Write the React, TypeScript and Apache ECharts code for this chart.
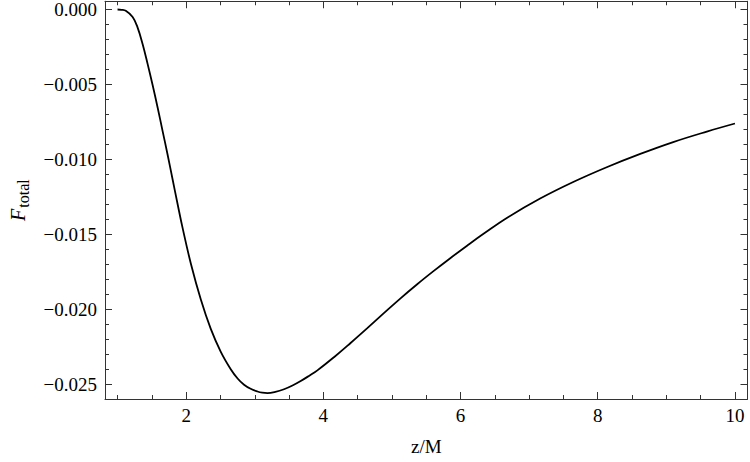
import React, { useEffect, useRef } from "react";
import * as echarts from "echarts";

// z/M values (x) and F_total values (y)
const zValues = [
  1.0, 1.06, 1.12, 1.22, 1.29, 1.365, 1.438, 1.511, 1.584, 1.656, 1.729,
  1.802, 1.875, 1.948, 2.068, 2.214, 2.359, 2.505, 2.65, 2.75, 2.844, 2.94,
  3.039, 3.11, 3.185, 3.3, 3.427, 3.55, 3.67, 3.79, 3.913, 4.155, 4.397,
  4.641, 4.882, 5.125, 5.368, 5.61, 5.85, 6.1, 6.34, 6.68, 7.16, 7.65, 8.13,
  8.62, 9.1, 9.59, 10.0,
];
const fValues = [
  0, -0.00002, -0.00009, -0.0005, -0.00118, -0.0023, -0.00363, -0.00504,
  -0.00654, -0.0081, -0.00968, -0.01133, -0.01298, -0.01458, -0.01695,
  -0.01936, -0.02132, -0.02285, -0.02401, -0.02463, -0.02505, -0.02532,
  -0.0255, -0.02558, -0.02561, -0.02553, -0.02535, -0.0251, -0.0248,
  -0.02446, -0.02409, -0.02321, -0.02226, -0.02127, -0.02027, -0.01928,
  -0.01834, -0.01745, -0.0166, -0.01575, -0.01496, -0.0139, -0.01262,
  -0.0115, -0.01053, -0.00964, -0.00885, -0.00815, -0.00761,
];

const xMajorTicks = [2, 4, 6, 8, 10];
const xMinorTicks = [1, 1.5, 2.5, 3, 3.5, 4.5, 5, 5.5, 6.5, 7, 7.5, 8.5, 9, 9.5];
const yMajorTicks = [0, -0.005, -0.01, -0.015, -0.02, -0.025];
const yMinorTicks = [
  -0.001, -0.002, -0.003, -0.004, -0.006, -0.007, -0.008, -0.009, -0.011,
  -0.012, -0.013, -0.014, -0.016, -0.017, -0.018, -0.019, -0.021, -0.022,
  -0.023, -0.024,
];

const FONT = "Liberation Serif";
const LINE_COLOR = "#333";
const X_MIN = 0.817;
const X_MAX = 10.183;
const Y_MIN = -0.026;
const Y_MAX = 0.00055;

function fmtY(v: number): string {
  const s = Math.abs(v).toFixed(3);
  return v < -1e-9 ? "\u2212" + s : s;
}

export default function App() {
  const ref = useRef<HTMLDivElement>(null);

  useEffect(() => {
    if (!ref.current) return;
    const chart = echarts.init(ref.current, null, { renderer: "svg" });

    const xBase = (position: string, ticks: number[], len: number, labels: boolean, line: boolean) => ({
      type: "value",
      position,
      min: X_MIN,
      max: X_MAX,
      axisLine: { show: line, onZero: false, lineStyle: { color: LINE_COLOR, width: 1 } },
      axisTick: {
        show: true,
        inside: true,
        length: len,
        customValues: ticks,
        lineStyle: { color: LINE_COLOR, width: 1 },
      },
      axisLabel: labels
        ? {
            show: true,
            customValues: ticks,
            margin: 7,
            color: "#000",
            fontFamily: FONT,
            fontSize: 19,
            formatter: (v: number) => String(v),
          }
        : { show: false },
      splitLine: { show: false },
    });

    const yBase = (position: string, ticks: number[], len: number, labels: boolean, line: boolean) => ({
      type: "value",
      position,
      min: Y_MIN,
      max: Y_MAX,
      axisLine: { show: line, onZero: false, lineStyle: { color: LINE_COLOR, width: 1 } },
      axisTick: {
        show: true,
        inside: true,
        length: len,
        customValues: ticks,
        lineStyle: { color: LINE_COLOR, width: 1 },
      },
      axisLabel: labels
        ? {
            show: true,
            customValues: ticks,
            margin: 8,
            color: "#000",
            fontFamily: FONT,
            fontSize: 19,
            formatter: (v: number) => fmtY(v),
          }
        : { show: false },
      splitLine: { show: false },
    });

    const xMain: any = xBase("bottom", xMajorTicks, 7, true, true);
    xMain.name = "z/M";
    xMain.nameLocation = "middle";
    xMain.nameGap = 38;
    xMain.nameTextStyle = { color: "#000", fontFamily: FONT, fontSize: 19 };

    const yMain: any = yBase("left", yMajorTicks, 7, true, true);
    yMain.name = "{F|F}{s|total}";
    yMain.nameLocation = "middle";
    yMain.nameGap = 74;
    yMain.nameRotate = 90;
    yMain.nameTextStyle = {
      color: "#000",
      fontFamily: FONT,
      rich: {
        F: { fontFamily: FONT, fontStyle: "italic", fontSize: 20, color: "#000", verticalAlign: "top" },
        s: { fontFamily: FONT, fontSize: 16, color: "#000", verticalAlign: "bottom", padding: [7, 0, 0, 1] },
      },
    };

    chart.setOption({
      animation: false,
      backgroundColor: "#fff",
      grid: { left: 104, right: 2.5, top: 0.5, bottom: 63, containLabel: false },
      xAxis: [
        xMain,
        xBase("bottom", xMinorTicks, 4, false, false),
        xBase("top", xMajorTicks, 7, false, true),
        xBase("top", xMinorTicks, 4, false, false),
      ],
      yAxis: [
        yMain,
        yBase("left", yMinorTicks, 4, false, false),
        yBase("right", yMajorTicks, 7, false, true),
        yBase("right", yMinorTicks, 4, false, false),
      ],
      series: [
        {
          type: "line",
          xAxisIndex: 0,
          yAxisIndex: 0,
          data: zValues.map((z, i) => [z, fValues[i]]),
          showSymbol: false,
          smooth: 0.4,
          lineStyle: { color: "#000", width: 1.8 },
          clip: true,
        },
      ],
    });

    return () => chart.dispose();
  }, []);

  return (
    <div
      ref={ref}
      style={{ position: "fixed", left: 0, top: 0, width: 750, height: 462, background: "#fff" }}
    />
  );
}
